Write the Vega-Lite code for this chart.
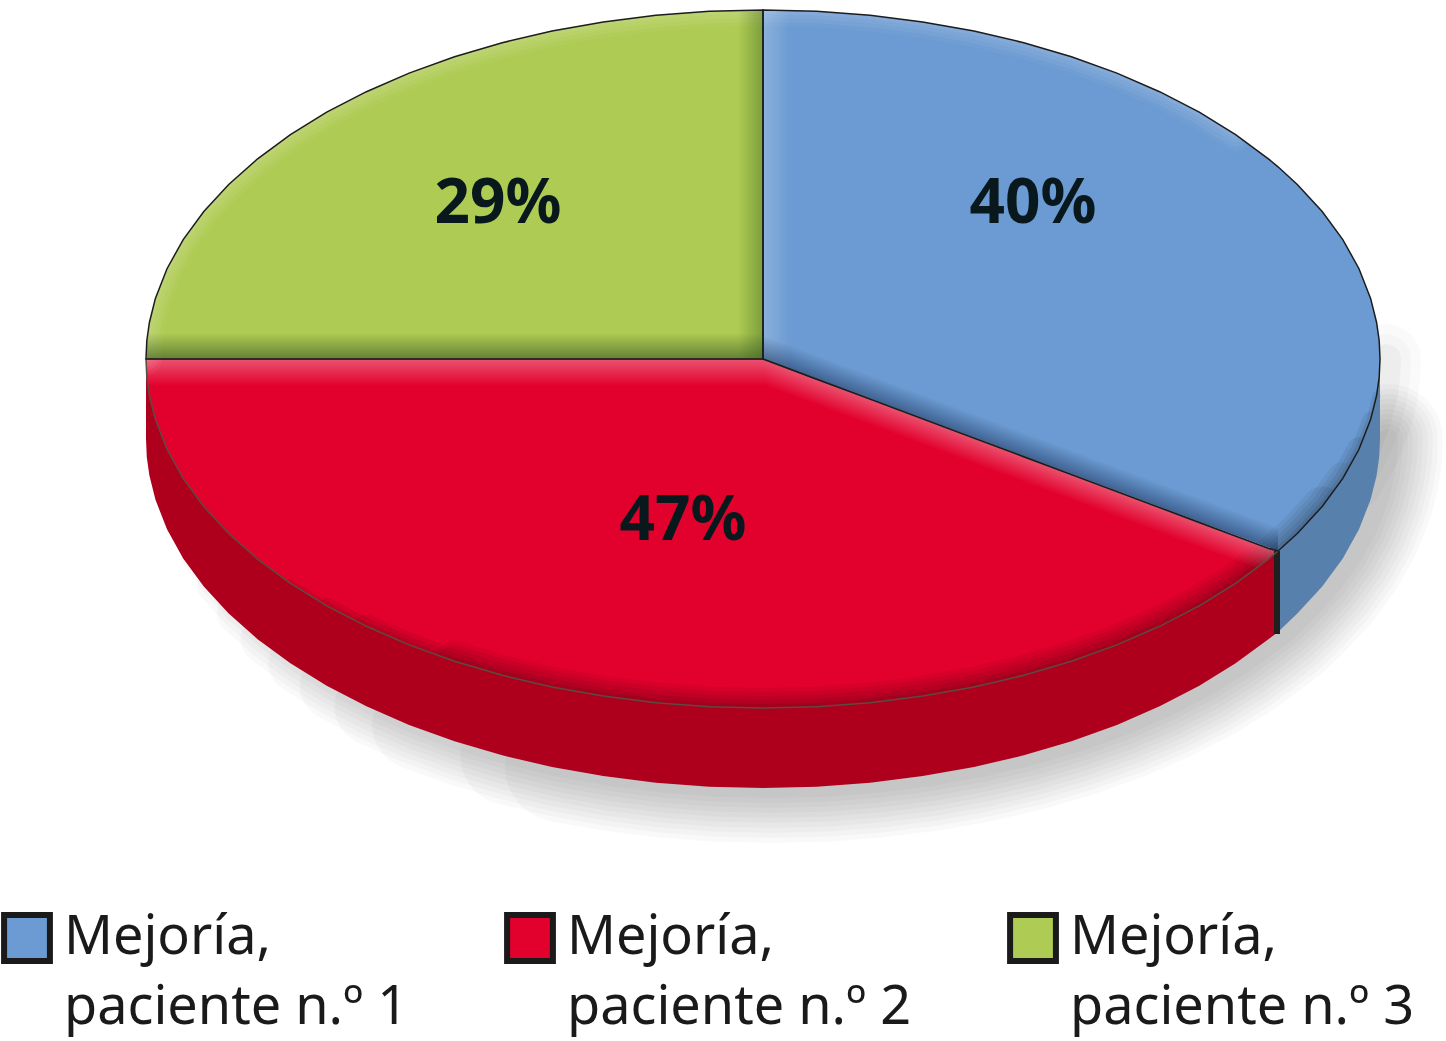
{
"$schema":"https://vega.github.io/schema/vega-lite/v6.json",
"width":1446,"height":1041,"autosize":{"type":"none"},"padding":0,
"background":"#ffffff","view":{"stroke":null},
"config":{"style":{"guide-label":{"lineHeight":70}}},
"datasets":{
"top":[
{"serie":"Mejoría,|paciente n.º 1","x":763,"y":10,"y2":359},{"serie":"Mejoría,|paciente n.º 1","x":816.8,"y":11.3,"y2":379.2},{"serie":"Mejoría,|paciente n.º 1","x":870.1,"y":15.3,"y2":399.1},{"serie":"Mejoría,|paciente n.º 1","x":922.7,"y":21.9,"y2":418.9},{"serie":"Mejoría,|paciente n.º 1","x":974,"y":31,"y2":438.1},{"serie":"Mejoría,|paciente n.º 1","x":1023.8,"y":42.7,"y2":456.7},{"serie":"Mejoría,|paciente n.º 1","x":1071.5,"y":56.8,"y2":474.6},{"serie":"Mejoría,|paciente n.º 1","x":1116.9,"y":73.1,"y2":491.6},{"serie":"Mejoría,|paciente n.º 1","x":1159.6,"y":91.7,"y2":507.6},{"serie":"Mejoría,|paciente n.º 1","x":1199.3,"y":112.2,"y2":522.5},{"serie":"Mejoría,|paciente n.º 1","x":1235.6,"y":134.7,"y2":536.1},{"serie":"Mejoría,|paciente n.º 1","x":1268.4,"y":158.8,"y2":548.4},{"serie":"Mejoría,|paciente n.º 1","x":1278,"y":166.8,"y2":551},{"serie":"Mejoría,|paciente n.º 1","x":1297.3,"y":184.5,"y2":533.5},{"serie":"Mejoría,|paciente n.º 1","x":1322.2,"y":211.5,"y2":506.5},{"serie":"Mejoría,|paciente n.º 1","x":1342.8,"y":239.6,"y2":478.4},{"serie":"Mejoría,|paciente n.º 1","x":1359,"y":268.7,"y2":449.3},{"serie":"Mejoría,|paciente n.º 1","x":1370.6,"y":298.4,"y2":419.6},{"serie":"Mejoría,|paciente n.º 1","x":1376.6,"y":322.5,"y2":395.5},{"serie":"Mejoría,|paciente n.º 1","x":1379.2,"y":340.7,"y2":377.3},{"serie":"Mejoría,|paciente n.º 1","x":1380,"y":359,"y2":359},
{"serie":"Mejoría,|paciente n.º 2","x":146,"y":359,"y2":359},{"serie":"Mejoría,|paciente n.º 2","x":146.8,"y":359,"y2":377.3},{"serie":"Mejoría,|paciente n.º 2","x":149.4,"y":359,"y2":395.5},{"serie":"Mejoría,|paciente n.º 2","x":155.4,"y":359,"y2":419.6},{"serie":"Mejoría,|paciente n.º 2","x":167,"y":359,"y2":449.3},{"serie":"Mejoría,|paciente n.º 2","x":183.2,"y":359,"y2":478.4},{"serie":"Mejoría,|paciente n.º 2","x":203.8,"y":359,"y2":506.5},{"serie":"Mejoría,|paciente n.º 2","x":228.7,"y":359,"y2":533.5},{"serie":"Mejoría,|paciente n.º 2","x":257.6,"y":359,"y2":559.2},{"serie":"Mejoría,|paciente n.º 2","x":290.4,"y":359,"y2":583.3},{"serie":"Mejoría,|paciente n.º 2","x":326.7,"y":359,"y2":605.8},{"serie":"Mejoría,|paciente n.º 2","x":366.4,"y":359,"y2":626.3},{"serie":"Mejoría,|paciente n.º 2","x":409.1,"y":359,"y2":644.9},{"serie":"Mejoría,|paciente n.º 2","x":454.5,"y":359,"y2":661.2},{"serie":"Mejoría,|paciente n.º 2","x":502.2,"y":359,"y2":675.3},{"serie":"Mejoría,|paciente n.º 2","x":552,"y":359,"y2":687},{"serie":"Mejoría,|paciente n.º 2","x":603.3,"y":359,"y2":696.1},{"serie":"Mejoría,|paciente n.º 2","x":655.9,"y":359,"y2":702.7},{"serie":"Mejoría,|paciente n.º 2","x":709.2,"y":359,"y2":706.7},{"serie":"Mejoría,|paciente n.º 2","x":763,"y":359,"y2":708},{"serie":"Mejoría,|paciente n.º 2","x":816.8,"y":379.2,"y2":706.7},{"serie":"Mejoría,|paciente n.º 2","x":870.1,"y":399.1,"y2":702.7},{"serie":"Mejoría,|paciente n.º 2","x":922.7,"y":418.9,"y2":696.1},{"serie":"Mejoría,|paciente n.º 2","x":974,"y":438.1,"y2":687},{"serie":"Mejoría,|paciente n.º 2","x":1023.8,"y":456.7,"y2":675.3},{"serie":"Mejoría,|paciente n.º 2","x":1071.5,"y":474.6,"y2":661.2},{"serie":"Mejoría,|paciente n.º 2","x":1116.9,"y":491.6,"y2":644.9},{"serie":"Mejoría,|paciente n.º 2","x":1159.6,"y":507.6,"y2":626.3},{"serie":"Mejoría,|paciente n.º 2","x":1199.3,"y":522.5,"y2":605.8},{"serie":"Mejoría,|paciente n.º 2","x":1235.6,"y":536.1,"y2":583.3},{"serie":"Mejoría,|paciente n.º 2","x":1268.4,"y":548.4,"y2":559.2},{"serie":"Mejoría,|paciente n.º 2","x":1278,"y":551,"y2":551},
{"serie":"Mejoría,|paciente n.º 3","x":146,"y":359,"y2":359},{"serie":"Mejoría,|paciente n.º 3","x":146.8,"y":340.7,"y2":359},{"serie":"Mejoría,|paciente n.º 3","x":149.4,"y":322.5,"y2":359},{"serie":"Mejoría,|paciente n.º 3","x":155.4,"y":298.4,"y2":359},{"serie":"Mejoría,|paciente n.º 3","x":167,"y":268.7,"y2":359},{"serie":"Mejoría,|paciente n.º 3","x":183.2,"y":239.6,"y2":359},{"serie":"Mejoría,|paciente n.º 3","x":203.8,"y":211.5,"y2":359},{"serie":"Mejoría,|paciente n.º 3","x":228.7,"y":184.5,"y2":359},{"serie":"Mejoría,|paciente n.º 3","x":257.6,"y":158.8,"y2":359},{"serie":"Mejoría,|paciente n.º 3","x":290.4,"y":134.7,"y2":359},{"serie":"Mejoría,|paciente n.º 3","x":326.7,"y":112.2,"y2":359},{"serie":"Mejoría,|paciente n.º 3","x":366.4,"y":91.7,"y2":359},{"serie":"Mejoría,|paciente n.º 3","x":409.1,"y":73.1,"y2":359},{"serie":"Mejoría,|paciente n.º 3","x":454.5,"y":56.8,"y2":359},{"serie":"Mejoría,|paciente n.º 3","x":502.2,"y":42.7,"y2":359},{"serie":"Mejoría,|paciente n.º 3","x":552,"y":31,"y2":359},{"serie":"Mejoría,|paciente n.º 3","x":603.3,"y":21.9,"y2":359},{"serie":"Mejoría,|paciente n.º 3","x":655.9,"y":15.3,"y2":359},{"serie":"Mejoría,|paciente n.º 3","x":709.2,"y":11.3,"y2":359},{"serie":"Mejoría,|paciente n.º 3","x":763,"y":10,"y2":359}
],
"side":[
{"part":"r","x":146,"y":359,"y2":439},{"part":"r","x":146.8,"y":377.3,"y2":457.3},{"part":"r","x":149.4,"y":395.5,"y2":475.5},{"part":"r","x":155.4,"y":419.6,"y2":499.6},{"part":"r","x":167,"y":449.3,"y2":529.3},{"part":"r","x":183.2,"y":478.4,"y2":558.4},{"part":"r","x":203.8,"y":506.5,"y2":586.5},{"part":"r","x":228.7,"y":533.5,"y2":613.5},{"part":"r","x":257.6,"y":559.2,"y2":639.2},{"part":"r","x":290.4,"y":583.3,"y2":663.3},{"part":"r","x":326.7,"y":605.8,"y2":685.8},{"part":"r","x":366.4,"y":626.3,"y2":706.3},{"part":"r","x":409.1,"y":644.9,"y2":724.9},{"part":"r","x":454.5,"y":661.2,"y2":741.2},{"part":"r","x":502.2,"y":675.3,"y2":755.3},{"part":"r","x":552,"y":687,"y2":767},{"part":"r","x":603.3,"y":696.1,"y2":776.1},{"part":"r","x":655.9,"y":702.7,"y2":782.7},{"part":"r","x":709.2,"y":706.7,"y2":786.7},{"part":"r","x":763,"y":708,"y2":788},{"part":"r","x":816.8,"y":706.7,"y2":786.7},{"part":"r","x":870.1,"y":702.7,"y2":782.7},{"part":"r","x":922.7,"y":696.1,"y2":776.1},{"part":"r","x":974,"y":687,"y2":767},{"part":"r","x":1023.8,"y":675.3,"y2":755.3},{"part":"r","x":1071.5,"y":661.2,"y2":741.2},{"part":"r","x":1116.9,"y":644.9,"y2":724.9},{"part":"r","x":1159.6,"y":626.3,"y2":706.3},{"part":"r","x":1199.3,"y":605.8,"y2":685.8},{"part":"r","x":1235.6,"y":583.3,"y2":663.3},{"part":"r","x":1268.4,"y":559.2,"y2":639.2},{"part":"r","x":1278,"y":551,"y2":632},
{"part":"b","x":1278,"y":551,"y2":632},{"part":"b","x":1297.3,"y":533.5,"y2":613.5},{"part":"b","x":1322.2,"y":506.5,"y2":586.5},{"part":"b","x":1342.8,"y":478.4,"y2":558.4},{"part":"b","x":1359,"y":449.3,"y2":529.3},{"part":"b","x":1370.6,"y":419.6,"y2":499.6},{"part":"b","x":1376.6,"y":395.5,"y2":475.5},{"part":"b","x":1379.2,"y":377.3,"y2":457.3},{"part":"b","x":1380,"y":359,"y2":439}
],
"pct":[{"label":"40%","x":1033,"y":223},{"label":"47%","x":683,"y":540},{"label":"29%","x":498,"y":223}]
},
"encoding":{
"x":{"field":"x","type":"quantitative","scale":{"domain":[0,1446],"nice":false,"zero":false},"axis":null},
"y":{"field":"y","type":"quantitative","scale":{"domain":[1041,0],"nice":false,"zero":false},"axis":null}
},
"layer":[
{"data":{"name":"side"},"transform":[{"filter":"datum.x>=1342"}],"mark":{"type":"line","stroke":"#000","strokeWidth":70,"opacity":0.02,"strokeCap":"round","xOffset":6},"encoding":{}},
{"data":{"name":"side"},"transform":[{"filter":"datum.x>=1342"}],"mark":{"type":"line","stroke":"#000","strokeWidth":50,"opacity":0.02,"strokeCap":"round","xOffset":6},"encoding":{}},
{"data":{"name":"side"},"transform":[{"filter":"datum.x>=1342"}],"mark":{"type":"line","stroke":"#000","strokeWidth":30,"opacity":0.03,"strokeCap":"round","xOffset":6},"encoding":{}},
{"data":{"name":"side"},"transform":[{"filter":"datum.x>=503"}],"mark":{"type":"line","stroke":"#000","strokeWidth":110,"opacity":0.022,"strokeCap":"round","xOffset":8},"encoding":{"y":{"field":"y2","type":"quantitative"}}},
{"data":{"name":"side"},"transform":[{"filter":"datum.x>=455"}],"mark":{"type":"line","stroke":"#000","strokeWidth":100,"opacity":0.022,"strokeCap":"round","xOffset":8},"encoding":{"y":{"field":"y2","type":"quantitative"}}},
{"data":{"name":"side"},"transform":[{"filter":"datum.x>=409"}],"mark":{"type":"line","stroke":"#000","strokeWidth":90,"opacity":0.022,"strokeCap":"round","xOffset":8},"encoding":{"y":{"field":"y2","type":"quantitative"}}},
{"data":{"name":"side"},"transform":[{"filter":"datum.x>=366"}],"mark":{"type":"line","stroke":"#000","strokeWidth":80,"opacity":0.022,"strokeCap":"round","xOffset":8},"encoding":{"y":{"field":"y2","type":"quantitative"}}},
{"data":{"name":"side"},"transform":[{"filter":"datum.x>=326"}],"mark":{"type":"line","stroke":"#000","strokeWidth":70,"opacity":0.022,"strokeCap":"round","xOffset":8},"encoding":{"y":{"field":"y2","type":"quantitative"}}},
{"data":{"name":"side"},"transform":[{"filter":"datum.x>=290"}],"mark":{"type":"line","stroke":"#000","strokeWidth":60,"opacity":0.022,"strokeCap":"round","xOffset":8},"encoding":{"y":{"field":"y2","type":"quantitative"}}},
{"data":{"name":"side"},"transform":[{"filter":"datum.x>=257"}],"mark":{"type":"line","stroke":"#000","strokeWidth":50,"opacity":0.022,"strokeCap":"round","xOffset":8},"encoding":{"y":{"field":"y2","type":"quantitative"}}},
{"data":{"name":"side"},"transform":[{"filter":"datum.x>=228"}],"mark":{"type":"line","stroke":"#000","strokeWidth":40,"opacity":0.022,"strokeCap":"round","xOffset":8},"encoding":{"y":{"field":"y2","type":"quantitative"}}},
{"data":{"name":"side"},"transform":[{"filter":"datum.x>=203"}],"mark":{"type":"line","stroke":"#000","strokeWidth":30,"opacity":0.022,"strokeCap":"round","xOffset":8},"encoding":{"y":{"field":"y2","type":"quantitative"}}},
{"data":{"name":"side"},"transform":[{"filter":"datum.x>=183"}],"mark":{"type":"line","stroke":"#000","strokeWidth":20,"opacity":0.022,"strokeCap":"round","xOffset":8},"encoding":{"y":{"field":"y2","type":"quantitative"}}},
{"data":{"name":"top"},"mark":{"type":"area"},"encoding":{"y2":{"field":"y2"},
 "color":{"field":"serie","type":"nominal","scale":{"domain":["Mejoría,|paciente n.º 1","Mejoría,|paciente n.º 2","Mejoría,|paciente n.º 3"],"range":["#6b9bd2","#e2012d","#aecb53"]},
 "legend":{"orient":"none","legendX":0,"legendY":911,"direction":"horizontal","columns":3,"title":null,"symbolType":"square","symbolSize":2100,"symbolStrokeColor":"#1a1a1a","symbolStrokeWidth":6,"symbolOpacity":1,"labelFont":"Noto Sans","labelFontSize":54,"labelColor":"#1a1a1a","labelLimit":500,"labelOffset":10,"columnPadding":86,"labelExpr":"split(datum.label,'|')"}}}},
{"data":{"name":"side"},"transform":[{"filter":"datum.x>=450&&datum.x<=1322.5"}],"mark":{"type":"line","stroke":"#000","strokeWidth":40,"opacity":0.05,"strokeCap":"round"},"encoding":{}},
{"data":{"name":"side"},"transform":[{"filter":"datum.x>=410&&datum.x<=1343"}],"mark":{"type":"line","stroke":"#000","strokeWidth":32,"opacity":0.05,"strokeCap":"round"},"encoding":{}},
{"data":{"name":"side"},"transform":[{"filter":"datum.x>=366&&datum.x<=1359.5"}],"mark":{"type":"line","stroke":"#000","strokeWidth":24,"opacity":0.06,"strokeCap":"round"},"encoding":{}},
{"data":{"name":"side"},"transform":[{"filter":"datum.x>=326&&datum.x<=1371"}],"mark":{"type":"line","stroke":"#000","strokeWidth":16,"opacity":0.07,"strokeCap":"round"},"encoding":{}},
{"data":{"name":"side"},"transform":[{"filter":"datum.x>=290&&datum.x<=1377"}],"mark":{"type":"line","stroke":"#000","strokeWidth":8,"opacity":0.08,"strokeCap":"round"},"encoding":{}},
{"data":{"name":"top"},"transform":[{"filter":"indexof(datum.serie,'2')<0&&datum.x<=1240"}],"mark":{"type":"line","stroke":"#fff","strokeWidth":32,"opacity":0.04,"strokeCap":"round"},"encoding":{}},
{"data":{"name":"top"},"transform":[{"filter":"indexof(datum.serie,'2')<0&&datum.x<=1240"}],"mark":{"type":"line","stroke":"#fff","strokeWidth":24,"opacity":0.05,"strokeCap":"round"},"encoding":{}},
{"data":{"name":"top"},"transform":[{"filter":"indexof(datum.serie,'2')<0&&datum.x<=1240"}],"mark":{"type":"line","stroke":"#fff","strokeWidth":16,"opacity":0.05,"strokeCap":"round"},"encoding":{}},
{"data":{"name":"top"},"transform":[{"filter":"indexof(datum.serie,'2')<0&&datum.x<=1240"}],"mark":{"type":"line","stroke":"#fff","strokeWidth":8,"opacity":0.05,"strokeCap":"round"},"encoding":{}},
{"data":{"values":[{"x":147,"y":333,"y2":359},{"x":763,"y":333,"y2":359}]},"mark":{"type":"area","fill":{"gradient":"linear","x1":0,"y1":0,"x2":0,"y2":1,"stops":[{"offset":0,"color":"rgba(50,80,30,0)"},{"offset":1,"color":"rgba(50,80,30,0.6)"}]}},"encoding":{"y2":{"field":"y2"}}},
{"data":{"values":[{"x":738,"y":11,"y2":359},{"x":763,"y":10,"y2":359}]},"mark":{"type":"area","fill":{"gradient":"linear","x1":0,"y1":0,"x2":1,"y2":0,"stops":[{"offset":0,"color":"rgba(50,90,30,0)"},{"offset":1,"color":"rgba(50,90,30,0.4)"}]}},"encoding":{"y2":{"field":"y2"}}},
{"data":{"values":[{"x":763,"y":10,"y2":359},{"x":790,"y":11,"y2":369}]},"mark":{"type":"area","fill":{"gradient":"linear","x1":0,"y1":0,"x2":1,"y2":0,"stops":[{"offset":0,"color":"rgba(255,255,255,0.22)"},{"offset":1,"color":"rgba(255,255,255,0)"}]}},"encoding":{"y2":{"field":"y2"}}},
{"data":{"values":[{"x":763,"y":335,"y2":359},{"x":1278,"y":527,"y2":551}]},"mark":{"type":"area","fill":{"gradient":"linear","x1":0.5,"y1":0.4445,"x2":0.4449,"y2":0.5065,"stops":[{"offset":0,"color":"rgba(20,40,80,0)"},{"offset":1,"color":"rgba(20,40,80,0.5)"}]}},"encoding":{"y2":{"field":"y2"}}},
{"data":{"values":[{"x":147,"y":359,"y2":386},{"x":763,"y":359,"y2":386}]},"mark":{"type":"area","fill":{"gradient":"linear","x1":0,"y1":0,"x2":0,"y2":1,"stops":[{"offset":0,"color":"rgba(255,255,255,0.32)"},{"offset":1,"color":"rgba(255,255,255,0)"}]}},"encoding":{"y2":{"field":"y2"}}},
{"data":{"values":[{"x":763,"y":359,"y2":385},{"x":1278,"y":551,"y2":577}]},"mark":{"type":"area","fill":{"gradient":"linear","x1":0.5,"y1":0.44,"x2":0.4405,"y2":0.5076,"stops":[{"offset":0,"color":"rgba(255,255,255,0.32)"},{"offset":1,"color":"rgba(255,255,255,0)"}]}},"encoding":{"y2":{"field":"y2"}}},
{"data":{"name":"side"},"transform":[{"filter":"datum.part=='r'"}],"mark":{"type":"area","fill":"#ae001c"},"encoding":{"y2":{"field":"y2"}}},
{"data":{"name":"side"},"transform":[{"filter":"datum.part=='b'"}],"mark":{"type":"area","fill":"#5880ad"},"encoding":{"y2":{"field":"y2"}}},
{"data":{"values":[{"x":1277,"y":551,"y2":634}]},"mark":{"type":"rule","stroke":"#1f1f1f","strokeWidth":6},"encoding":{"y2":{"field":"y2"}}},
{"data":{"name":"top"},"transform":[{"filter":"indexof(datum.serie,'2')>=0"}],"mark":{"type":"area","fill":"transparent","stroke":"#5a4c40","strokeWidth":1.5},"encoding":{"y2":{"field":"y2"}}},
{"data":{"name":"top"},"transform":[{"filter":"indexof(datum.serie,'1')>=0"}],"mark":{"type":"area","fill":"transparent","stroke":"#1c1c1c","strokeWidth":1.5},"encoding":{"y2":{"field":"y2"}}},
{"data":{"name":"top"},"transform":[{"filter":"indexof(datum.serie,'3')>=0"}],"mark":{"type":"area","fill":"transparent","stroke":"#1c1c1c","strokeWidth":1.5},"encoding":{"y2":{"field":"y2"}}},
{"data":{"name":"pct"},"mark":{"type":"text","font":"Noto Sans","fontWeight":"bold","fontSize":62,"fill":"#08181c","baseline":"alphabetic","align":"center"},"encoding":{"text":{"field":"label"}}}
]
}
